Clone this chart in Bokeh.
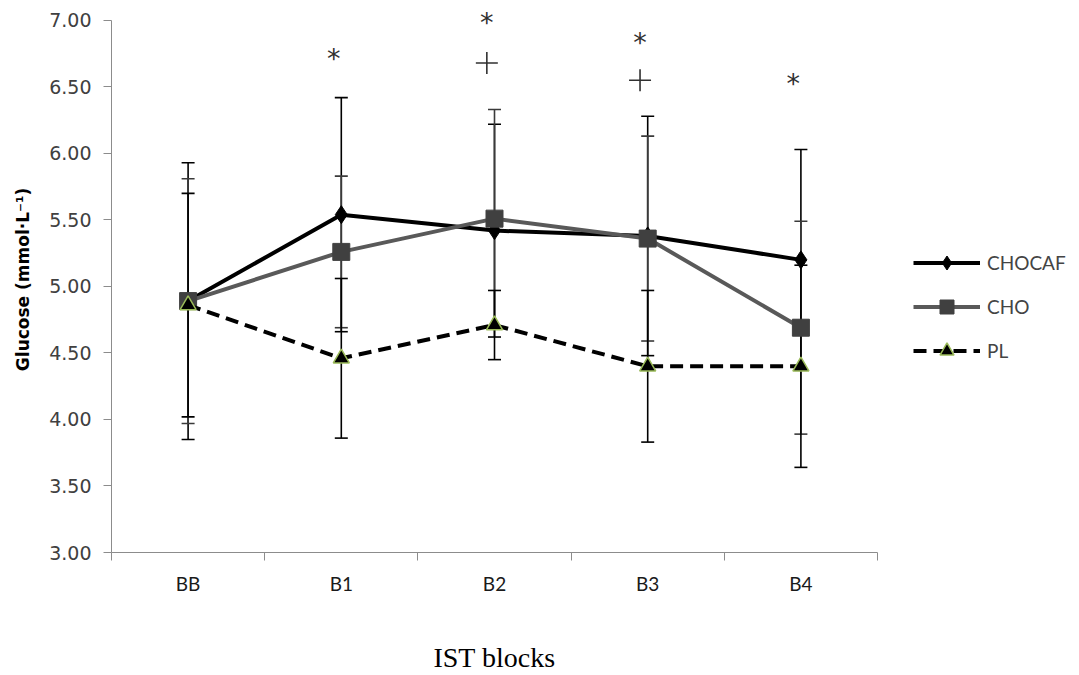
from bokeh.plotting import figure
from bokeh.models import (ColumnDataSource, FixedTicker, Whisker, TeeHead, Legend, LegendItem,
                          Range1d, LinearAxis)
from bokeh.core.properties import value
from bokeh.embed import file_html
from bokeh.resources import INLINE

blocks = ["BB", "B1", "B2", "B3", "B4"]
chocaf = [4.89, 5.54, 5.42, 5.38, 5.20]
chocaf_err = [1.04, 0.88, 0.80, 0.90, 0.83]
cho = [4.89, 5.26, 5.51, 5.36, 4.69]
cho_err = [0.92, 0.57, 0.82, 0.77, 0.80]
pl = [4.86, 4.46, 4.71, 4.40, 4.40]
pl_err = [0.84, 0.60, 0.26, 0.57, 0.76]

star_blocks = ["B1", "B2", "B3", "B4"]
star_y = [6.76, 7.03, 6.88, 6.57]
plus_blocks = ["B2", "B3"]
plus_y = [6.68, 6.55]

y_ticks = [3.0, 3.5, 4.0, 4.5, 5.0, 5.5, 6.0, 6.5, 7.0]

xpos = {b: i + 0.5 for i, b in enumerate(blocks)}
xs = [xpos[b] for b in blocks]
n = len(blocks)

# frame spans to the right edge so the legend can sit inside it; the axis stops at the last block
p = figure(width=1079, height=675, output_backend="svg", toolbar_location=None,
           x_range=Range1d(0, n * 968 / 766), y_range=Range1d(3, 7.15),
           min_border_left=111, min_border_right=0, min_border_top=0, min_border_bottom=123)
p.outline_line_color = None
p.xgrid.visible = False
p.ygrid.visible = False
p.background_fill_color = "white"

# axes
p.yaxis.ticker = FixedTicker(ticks=y_ticks)
p.yaxis.bounds = (3, 7)
p.yaxis.major_label_overrides = {t: f"{t:.2f}" for t in y_ticks}
p.yaxis.major_label_text_font = "DejaVu Sans"
p.yaxis.major_label_text_font_size = "19px"
p.yaxis.major_label_text_color = "#404040"
p.yaxis.axis_line_color = "#8c8c8c"
p.yaxis.major_tick_line_color = "#8c8c8c"
p.yaxis.major_tick_out = 8
p.yaxis.major_tick_in = 0
p.yaxis.minor_tick_line_color = None
p.yaxis.major_label_standoff = 12
p.yaxis.axis_label = "Glucose  (mmol·L⁻¹)"
p.yaxis.axis_label_text_font = "DejaVu Sans"
p.yaxis.axis_label_text_font_style = "bold"
p.yaxis.axis_label_text_font_size = "17px"
p.yaxis.axis_label_text_color = "#000000"
p.yaxis.axis_label_standoff = 13

p.xaxis.ticker = FixedTicker(ticks=xs, minor_ticks=list(range(n + 1)))
p.xaxis.bounds = (0, n)
p.xaxis.major_label_overrides = {xpos[b]: b for b in blocks}
p.xaxis.major_label_text_font = "Lato"
p.xaxis.major_label_text_font_size = "19px"
p.xaxis.major_label_text_color = "#1a1a1a"
p.xaxis.axis_line_color = "#8c8c8c"
p.xaxis.major_tick_out = 0
p.xaxis.major_tick_in = 0
p.xaxis.minor_tick_out = 8
p.xaxis.minor_tick_in = 0
p.xaxis.minor_tick_line_color = "#8c8c8c"
p.xaxis.major_label_standoff = 11

# x-axis title: a second, line-less axis whose single label sits under the middle block
title_axis = LinearAxis(ticker=FixedTicker(ticks=[n / 2]),
                        major_label_overrides={n / 2: "IST blocks"},
                        axis_line_color=None, major_tick_line_color=None,
                        minor_tick_line_color=None, major_tick_out=0, major_tick_in=0,
                        minor_tick_out=0, minor_tick_in=0, major_label_standoff=44,
                        major_label_text_font="Liberation Serif",
                        major_label_text_font_size="28px", major_label_text_color="#000000")
p.add_layout(title_axis, "below")

# error bars
def add_err(vals, errs, color):
    src = ColumnDataSource(dict(x=xs, upper=[v + e for v, e in zip(vals, errs)],
                                lower=[v - e for v, e in zip(vals, errs)]))
    w = Whisker(base="x", upper="upper", lower="lower", source=src,
                line_color=color, line_width=1.6, level="underlay",
                upper_head=TeeHead(size=13, line_color=color, line_width=1.6),
                lower_head=TeeHead(size=13, line_color=color, line_width=1.6))
    p.add_layout(w)

add_err(chocaf, chocaf_err, "#000000")
add_err(cho, cho_err, "#3a3a3a")
add_err(pl, pl_err, "#000000")

# series
l1 = p.line(xs, chocaf, line_color="#000000", line_width=4)
m1 = p.scatter(xs, chocaf, marker="diamond", size=18, fill_color="#000000", line_color="#000000")
l2 = p.line(xs, cho, line_color="#595959", line_width=4)
m2 = p.scatter(xs, cho, marker="square", size=17, fill_color="#404040", line_color="#404040")
l3 = p.line(xs, pl, line_color="#000000", line_width=4, line_dash="13 7")
m3 = p.scatter(xs, pl, marker="triangle", size=16, fill_color="#000000", line_color="#9bbb59",
               line_width=1.5)

# significance markers
p.text([xpos[b] - 0.05 for b in star_blocks], star_y, text=["*"] * len(star_blocks),
       text_font=value("DejaVu Sans"), text_font_size="27px", text_color="#303030",
       text_align="center", text_baseline="middle", y_offset=6)
p.scatter([xpos[b] - 0.05 for b in plus_blocks], plus_y, marker="cross", size=22,
          line_color="#303030", line_width=1.6)

legend = Legend(items=[LegendItem(label="CHOCAF", renderers=[l1, m1]),
                       LegendItem(label="CHO", renderers=[l2, m2]),
                       LegendItem(label="PL", renderers=[l3, m3])],
                location=(802, 184), glyph_width=67, glyph_height=35, spacing=9,
                label_text_font="Lato", label_text_font_size="19px", padding=0, margin=0,
                border_line_color=None, background_fill_alpha=0, label_standoff=7)
p.add_layout(legend, "center")

open("out.html", "w").write(file_html(p, INLINE))
